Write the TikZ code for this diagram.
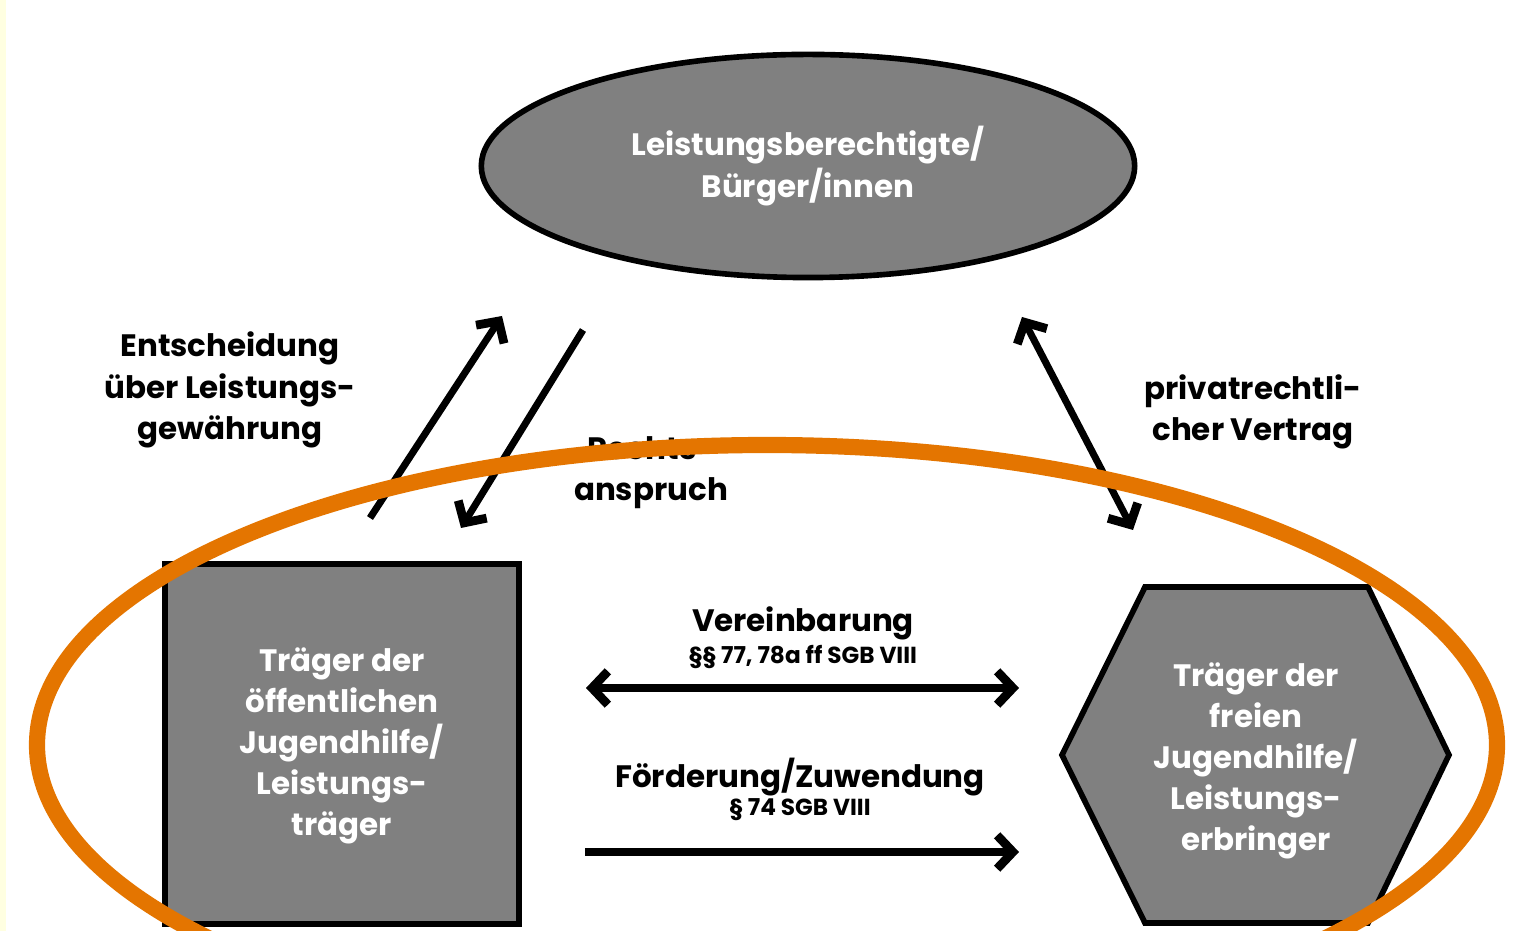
\documentclass[tikz,border=0pt]{standalone}
\usepackage{fontspec}
\setmainfont{Poppins}
\usetikzlibrary{arrows.meta,shapes.geometric}

\definecolor{boxgray}{RGB}{128,128,128}
\definecolor{ringorange}{RGB}{228,117,0}
\definecolor{paleyellow}{RGB}{255,255,225}

\tikzset{
  shapebox/.style={draw=black, line width=1.6pt, fill=boxgray},
  shapetext/.style={text=white, align=center, font=\bfseries\fontsize{8.8}{11.7}\selectfont},
  labeltext/.style={text=black, align=center, font=\bfseries\fontsize{8.8}{11.7}\selectfont},
  smalltext/.style={text=black, align=center, font=\bfseries\fontsize{6.6}{7.5}\selectfont},
  barb/.tip={Straight Barb[length=4.5pt, width=9.5pt, line width=2.5pt]},
  relarrow/.style={line width=2pt, -barb},
  relboth/.style={line width=2pt, barb-barb}
}

\begin{document}
\begin{tikzpicture}[x=0.01cm, y=-0.01cm]
    % picture frame, pixel coordinates from the top left
    \useasboundingbox (0,0) rectangle (1532,931);
    \clip (0,0) rectangle (1532,931);
    \fill[paleyellow] (0,0) rectangle (6,931);

    % top: citizens
    \node[shapebox, ellipse, minimum width=6.53cm, minimum height=2.23cm] (buerger) at (808,166) {};
    \node[shapetext] at (buerger.center) {Leistungsberechtigte/\\Bürger/innen};

    % bottom left: public provider
    \draw[shapebox] (165,564) rectangle (519,924);
    \node[shapetext] (oeffentlich) at (342,746) {Träger der\\öffentlichen\\Jugendhilfe/\\Leistungs-\\träger};

    % bottom right: free provider
    \draw[shapebox] (1062,755) -- (1145,587) -- (1368,587) -- (1449,755)
        -- (1368,923) -- (1145,923) -- cycle;
    \node[shapetext] (frei) at (1256,761) {Träger der\\freien\\Jugendhilfe/\\Leistungs-\\erbringer};

    % arrow ends
    \coordinate (entsch-a) at (370,518);
    \coordinate (entsch-b) at (502,316);
    \coordinate (recht-a) at (583,330);
    \coordinate (recht-b) at (461,528);
    \coordinate (vertrag-a) at (1022,317);
    \coordinate (vertrag-b) at (1133,530);
    \coordinate (verein-a) at (586,688);
    \coordinate (verein-b) at (1019,688);
    \coordinate (foerder-a) at (585,852);
    \coordinate (foerder-b) at (1019,852);

    \draw[relarrow] (entsch-a) -- (entsch-b);
    \draw[relarrow] (recht-a) -- (recht-b);
    \draw[relboth] (vertrag-a) -- (vertrag-b);
    \draw[relboth] (verein-a) -- (verein-b);
    \draw[relarrow] (foerder-a) -- (foerder-b);

    % labels
    \node[labeltext] (entscheidung) at (230,390) {Entscheidung\\über Leistungs-\\gewährung};
    \node[labeltext] (anspruch) at (651,473) {Rechts-\\anspruch};
    \node[labeltext] (privat) at (1253,412) {privatrechtli-\\cher Vertrag};
    \node[labeltext] (vereinbarung) at (803,623) {Vereinbarung};
    \node[smalltext] (paragraph1) at (803,657) {§§ 77, 78a ff SGB VIII};
    \node[labeltext] (foerderung) at (800,777) {Förderung/Zuwendung};
    \node[smalltext] (paragraph2) at (800,810) {§ 74 SGB VIII};

    % orange ring over the two providers
    \draw[ringorange, line width=4.6pt] (767,745) ellipse [x radius=730, y radius=300];
\end{tikzpicture}
\end{document}
